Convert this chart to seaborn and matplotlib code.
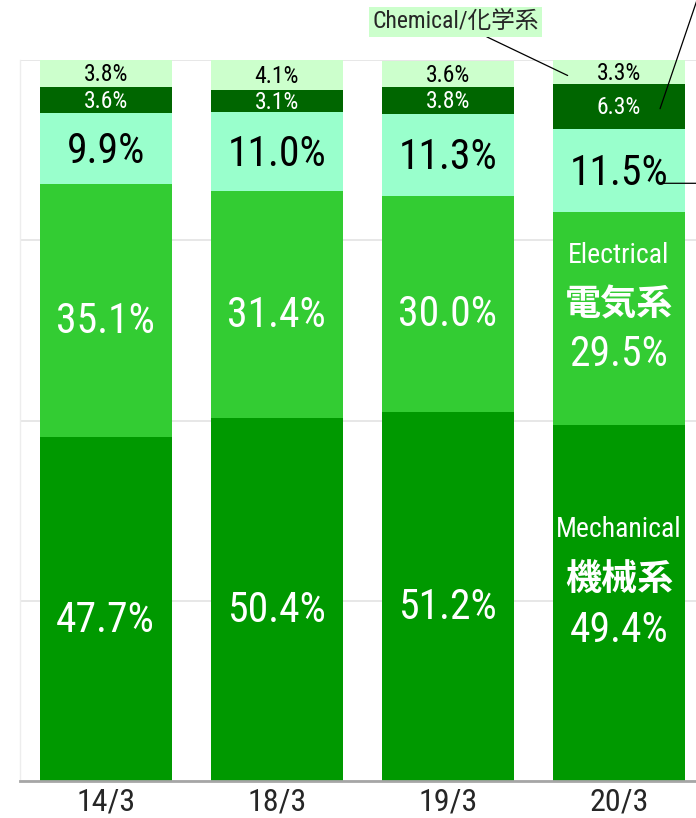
import matplotlib
matplotlib.use("Agg")
import matplotlib.pyplot as plt
import numpy as np
import pandas as pd
import seaborn as sns

# --- data (bottom -> top of each stacked bar) ---
periods = ["14/3", "18/3", "19/3", "20/3"]
mechanical = [47.7, 50.4, 51.2, 49.4]
electrical = [35.1, 31.4, 30.0, 29.5]
information = [9.9, 11.0, 11.3, 11.5]
civil = [3.6, 3.1, 3.8, 6.3]
chemical = [3.8, 4.1, 3.6, 3.3]

layers = [
    ("Mechanical", mechanical, "#009900", "white"),
    ("Electrical", electrical, "#33CC33", "white"),
    ("Information", information, "#99FFCC", "black"),
    ("Civil", civil, "#006600", "white"),
    ("Chemical", chemical, "#CCFFCC", "black"),
]

sns.set_style("white")
plt.rcParams["font.family"] = ["Roboto Condensed", "Noto Sans CJK JP", "DejaVu Sans"]
BOLD_CJK = ["Noto Sans CJK JP", "DejaVu Sans"]

fig = plt.figure(figsize=(6.96, 8.18), dpi=100)
ax = fig.add_axes([20 / 696, 37 / 818, 1 - 20 / 696, 721 / 818])

df = pd.DataFrame({name: vals for name, vals, _, _ in layers}, index=periods)
cum = df.cumsum(axis=1)
bottoms = cum - df

# draw cumulative totals from the top layer down so lower layers cover upper ones
for name, _, color, _ in reversed(layers):
    sns.barplot(x=periods, y=cum[name].values, color=color, saturation=1,
                width=0.772, ax=ax, zorder=2, linewidth=0)

ax.set_xlim(-0.5, 3.45)
ax.set_ylim(0, 100)
ax.set_yticks([0, 25, 50, 75, 100])
ax.yaxis.grid(True, color="#e3e3e3", linewidth=1.2, zorder=0)
ax.set_yticklabels([])
ax.tick_params(axis="y", length=0)
ax.tick_params(axis="x", length=0, labelsize=23, pad=5)
for s in ["top", "right"]:
    ax.spines[s].set_visible(False)
ax.spines["left"].set_color("#ededed")
ax.spines["left"].set_linewidth(1)
ax.spines["bottom"].set_color("#a6a6a6")
ax.spines["bottom"].set_linewidth(2)
ax.set_xlabel("")
ax.set_ylabel("")

# --- percentage labels ---
big = 30
small = 17


def put(text, x, y, dy, color, size, **kw):
    ax.annotate(text, (x, y), xytext=(0, dy), textcoords="offset points",
                ha="center", va="center", color=color, fontsize=size, **kw)


for i, p in enumerate(periods):
    for name, vals, color, tcolor in layers:
        v = vals[i]
        yc = bottoms.loc[p, name] + v / 2
        if i == 3 and name == "Mechanical":
            put("Mechanical", i, yc, 53, tcolor, 20)
            put("機械系", i, yc, 17, tcolor, 26, family=BOLD_CJK, fontweight="bold")
            put(f"{v:.1f}%", i, yc, -20, tcolor, big)
            continue
        if i == 3 and name == "Electrical":
            put("Electrical", i, yc, 45, tcolor, 20)
            put("電気系", i, yc, 10, tcolor, 26, family=BOLD_CJK, fontweight="bold")
            put(f"{v:.1f}%", i, yc, -26, tcolor, big)
            continue
        size = big if v > 8 else small
        off = -8 if v > 20 else (-2 if v > 8 else -1)
        put(f"{v:.1f}%", i, yc, off, tcolor, size)

# --- leader lines / callouts on the last bar ---
last = len(periods) - 1
chem_y = bottoms.loc[periods[last], "Chemical"] + chemical[last] / 2
ax.annotate("Chemical/化学系", xy=(last - 0.3, chem_y - 0.5), xytext=(2.53, 105.3),
            textcoords="data", ha="right", va="center", fontsize=17,
            bbox=dict(boxstyle="square,pad=0.15", fc="#CCFFCC", ec="none"),
            arrowprops=dict(arrowstyle="-", color="black", lw=0.9, shrinkA=0, shrinkB=0),
            annotation_clip=False)

civil_y = bottoms.loc[periods[last], "Civil"] + civil[last] / 2
ax.annotate("", xy=(last + 0.24, civil_y - 0.3), xytext=(last + 0.48, 110),
            arrowprops=dict(arrowstyle="-", color="black", lw=0.9, shrinkA=0, shrinkB=0),
            annotation_clip=False)

info_y = bottoms.loc[periods[last], "Information"] + 4.0
ax.annotate("", xy=(last + 0.26, info_y), xytext=(last + 0.6, info_y),
            arrowprops=dict(arrowstyle="-", color="black", lw=0.9, shrinkA=0, shrinkB=0),
            annotation_clip=False)

fig.savefig("out.png", dpi=100)
